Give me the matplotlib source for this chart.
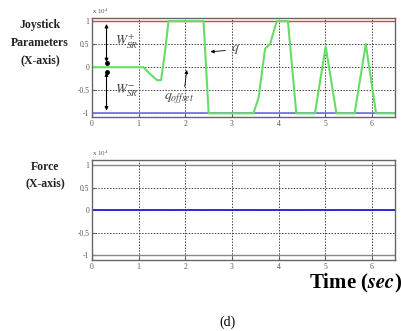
import matplotlib
matplotlib.use("Agg")
import matplotlib.pyplot as plt
import numpy as np

# data
t_q = [0, 1.1, 1.25, 1.39, 1.48, 1.56, 1.64, 2.39, 2.5, 3.46, 3.57, 3.71, 3.82, 3.96, 4.2, 4.38, 4.78, 5.01, 5.24, 5.63, 5.87, 6.09, 6.5]
q = [0, 0, -0.15, -0.28, -0.28, 0.3, 1, 1, -1, -1, -0.67, 0.4, 0.51, 1, 1, -1, -1, 0.45, -1, -1, 0.5, -1, -1]
t_force = [0, 6.5]
force = [0, 0]
upper_limit = 1
lower_limit = -1
xticks = [0, 1, 2, 3, 4, 5, 6]
yticks = [-1, -0.5, 0, 0.5, 1]
ytick_labels = ["-1", "-0.5", "0", "0.5", "1"]

plt.rcParams['font.family'] = ['Liberation Serif', 'DejaVu Serif']
plt.rcParams['mathtext.fontset'] = 'stix'

fig = plt.figure(figsize=(4.02, 3.31), dpi=100)
ax1 = fig.add_axes([0.229, 0.6465, 0.754, 0.298])
ax2 = fig.add_axes([0.229, 0.2145, 0.754, 0.302])

for ax, ylim in ((ax1, (-1.08, 1.06)), (ax2, (-1.1, 1.12))):
    ax.set_xlim(0, 6.5)
    ax.set_ylim(*ylim)
    ax.set_xticks(xticks)
    ax.set_yticks(yticks)
    ax.set_yticklabels(ytick_labels)
    ax.tick_params(direction='in', labelsize=5.5, colors='#555555', length=2, pad=2)
    ax.grid(True, linestyle=(0, (1.5, 1.5)), color='#444444', linewidth=0.7)
    for s in ax.spines.values():
        s.set_color('#666666')
        s.set_linewidth(1.0)
    ax.text(0.0, 1.02, r'x 10$^4$', transform=ax.transAxes, fontsize=5, color='#555555', va='bottom')

# top plot
ax1.axhline(upper_limit, color='#e04040', linewidth=1.0)
ax1.axhline(lower_limit, color='#7070e0', linewidth=1.2)
ax1.plot(t_q, q, color='#66dd66', linewidth=1.5)

ax1.annotate('', xy=(0.31, 1), xytext=(0.31, 0.05),
             arrowprops=dict(arrowstyle='<|-|>', color='black', lw=0.8, mutation_scale=5))
ax1.annotate('', xy=(0.31, -1), xytext=(0.31, -0.05),
             arrowprops=dict(arrowstyle='<|-|>', color='black', lw=0.8, mutation_scale=5))
ax1.plot([0.31, 0.31], [0.1, -0.1], 'ko', markersize=2.5)
ax1.text(0.5, 0.55, r'$W^{+}_{SR}$', fontsize=9.5, color='#444444', va='center')
ax1.text(0.5, -0.5, r'$W^{-}_{SR}$', fontsize=9.5, color='#444444', va='center')
ax1.annotate(r'$q$', xy=(2.48, 0.33), xytext=(2.98, 0.38), fontsize=10, color='#444444',
             va='center', arrowprops=dict(arrowstyle='-|>', color='black', lw=0.6, mutation_scale=5))
ax1.annotate('', xy=(2.04, 0.0), xytext=(1.98, -0.48),
             arrowprops=dict(arrowstyle='-|>', color='black', lw=0.6, mutation_scale=5))
ax1.text(1.55, -0.68, r'$q_{offset}$', fontsize=10, color='#444444', va='center')

# bottom plot
ax2.axhline(1, color='#888888', linewidth=1.0)
ax2.axhline(-1, color='#888888', linewidth=1.0)
ax2.plot(t_force, force, color='#2020cc', linewidth=1.3)

# labels
lab = dict(fontsize=8.5, fontweight='bold', ha='center', va='center', color='#222222')
fig.text(40/402, 1 - 25/331, 'Joystick', **lab)
fig.text(40/402, 1 - 43/331, 'Parameters', **lab)
fig.text(40/402, 1 - 60/331, '(X-axis)', **lab)
fig.text(45/402, 1 - 167/331, 'Force', **lab)
fig.text(45/402, 1 - 183/331, '(X-axis)', **lab)
fig.text(309/402, 1 - 283/331, r'Time ($\mathbfit{sec}$)', fontsize=15, fontweight='bold', ha='left', va='center')
fig.text(228/402, 1 - 322/331, '(d)', fontsize=10, ha='center', va='center')

fig.savefig('out.png', dpi=100)
